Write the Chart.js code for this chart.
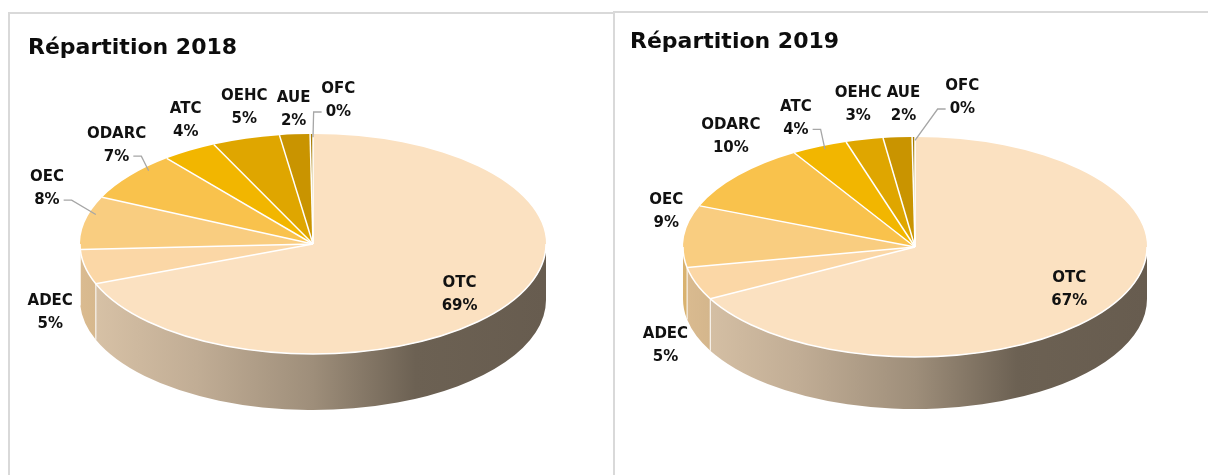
<!DOCTYPE html>
<html>
<head>
<meta charset="utf-8">
<title>Répartition 2018 / 2019</title>
<script src="https://cdn.jsdelivr.net/npm/chart.js"></script>
<style>
    body { margin: 0; background: #fff; width: 1208px; height: 475px; overflow: hidden; position: relative; }
    .panneau { position: absolute; border: 2px solid #d9d9d9; background: #fff; }
    .panneau canvas { display: block; }
    #p2018 { left: 8px; top: 12px; width: 603px; height: 480px; }
    #p2019 { left: 613px; top: 11px; width: 620px; height: 480px; }
</style>
</head>
<body>
    <div class="panneau" id="p2018"><canvas id="c2018" width="603" height="461"></canvas></div>
    <div class="panneau" id="p2019"><canvas id="c2019" width="593" height="462"></canvas></div>
    <script>
        // données (%)
        const categories = ['OTC', 'ADEC', 'OEC', 'ODARC', 'ATC', 'OEHC', 'AUE', 'OFC'];
        const valeurs2018 = [69.1, 5.1, 7.8, 7.2, 3.8, 4.7, 2.1, 0.2];
        const valeurs2019 = [67.2, 4.8, 9.1, 10.2, 3.9, 2.6, 2.0, 0.2];
        const couleurs = ['#FBE1C1', '#FBD7A6', '#F9CD80', '#F9C24C', '#F2B600', '#DFA600', '#C99400', '#A87C00'];

        // ombrage du flanc (gauche clair -> droite sombre)
        const ombrage = [[0, 0.87], [0.25, 0.77], [0.5, 0.63], [0.72, 0.43], [1, 0.41]];

        function assombrir(hex, f) {
            const n = parseInt(hex.slice(1), 16);
            const r = Math.round(((n >> 16) & 255) * f);
            const g = Math.round(((n >> 8) & 255) * f);
            const b = Math.round((n & 255) * f);
            return 'rgb(' + r + ',' + g + ',' + b + ')';
        }

        // camembert "3D" : ellipse + flanc, étiquettes à l'extérieur
        function camembert3d(o, valeurs) {
            const total = valeurs.reduce((a, b) => a + b, 0);
            return {
                id: 'camembert3d',
                beforeDatasetsDraw(chart) {
                    const ctx = chart.ctx;
                    const arcs = chart.getDatasetMeta(0).data;
                    arcs.forEach((arc, i) => {
                        const s = Math.max(arc.startAngle, 0);
                        const e = Math.min(arc.endAngle, Math.PI);
                        if (e <= s) return;
                        ctx.beginPath();
                        ctx.ellipse(o.cx, o.cy, o.rx, o.ry, 0, s, e);
                        ctx.ellipse(o.cx, o.cy + o.depth, o.rx, o.ry, 0, e, s, true);
                        ctx.closePath();
                        const grad = ctx.createLinearGradient(o.cx - o.rx, 0, o.cx + o.rx, 0);
                        ombrage.forEach(([t, f]) => grad.addColorStop(t, assombrir(couleurs[i], f)));
                        ctx.fillStyle = grad;
                        ctx.fill();
                    });
                    // séparations sur le flanc
                    ctx.strokeStyle = 'rgba(255,255,255,0.8)';
                    ctx.lineWidth = 1.2;
                    arcs.forEach(arc => {
                        const a = arc.startAngle;
                        if (a > 0 && a < Math.PI) {
                            const x = o.cx + o.rx * Math.cos(a), y = o.cy + o.ry * Math.sin(a);
                            ctx.beginPath();
                            ctx.moveTo(x, y);
                            ctx.lineTo(x, y + o.depth);
                            ctx.stroke();
                        }
                    });
                    const a0 = arcs[0];
                    ctx.save();
                    ctx.translate(o.cx, o.cy);
                    ctx.scale(o.rx / a0.outerRadius, o.ry / a0.outerRadius);
                    ctx.translate(-a0.x, -a0.y);
                },
                afterDatasetsDraw(chart) {
                    const ctx = chart.ctx;
                    ctx.restore();
                    const arcs = chart.getDatasetMeta(0).data;

                    // traits blancs entre les parts
                    ctx.strokeStyle = '#fff';
                    ctx.lineWidth = 1.5;
                    arcs.forEach(arc => {
                        const a = arc.startAngle;
                        ctx.beginPath();
                        ctx.moveTo(o.cx, o.cy);
                        ctx.lineTo(o.cx + o.rx * Math.cos(a), o.cy + o.ry * Math.sin(a));
                        ctx.stroke();
                    });
                    ctx.beginPath();
                    ctx.ellipse(o.cx, o.cy, o.rx, o.ry, 0, 0, Math.PI);
                    ctx.stroke();

                    // étiquettes
                    ctx.font = 'bold 15px "DejaVu Sans"';
                    ctx.textAlign = 'center';
                    ctx.textBaseline = 'middle';
                    arcs.forEach((arc, i) => {
                        const mid = (arc.startAngle + arc.endAngle) / 2;
                        const c = Math.cos(mid), s = Math.sin(mid);
                        const pct = Math.round(valeurs[i] / total * 100) + '%';
                        const w1 = ctx.measureText(categories[i]).width;
                        const w2 = ctx.measureText(pct).width;
                        const w = Math.max(w1, w2);
                        let x, y;
                        if (i === 0) {
                            x = o.cx + 0.7 * o.rx * c;
                            y = o.cy + 0.7 * o.ry * s;
                        } else {
                            const bx = o.cx + o.rx * c;
                            const by = o.cy + o.ry * s + (s > 0 ? o.depth * s : 0);
                            x = bx + c * (10 + w / 2);
                            y = by + s * 29;
                        }
                        x += o.decal[i][0];
                        y += o.decal[i][1];

                        if (o.repere[i]) {
                            // trait de rappel vers le point le plus proche du bord de la part
                            const sens = o.cx + o.rx * c > x ? 1 : -1;
                            const sx = x + sens * (w2 / 2 + 4), sy = y + 11;
                            const ex = sx + sens * 8;
                            let best = null, dmin = Infinity;
                            for (let k = 0; k <= 40; k++) {
                                const a = arc.startAngle + (arc.endAngle - arc.startAngle) * k / 40;
                                const qx = o.cx + 0.97 * o.rx * Math.cos(a), qy = o.cy + 0.97 * o.ry * Math.sin(a);
                                const d = Math.hypot(qx - ex, qy - sy);
                                if (d < dmin) { dmin = d; best = [qx, qy]; }
                            }
                            ctx.strokeStyle = '#a6a6a6';
                            ctx.lineWidth = 1.3;
                            ctx.beginPath();
                            ctx.moveTo(sx, sy);
                            ctx.lineTo(ex, sy);
                            ctx.lineTo(best[0], best[1]);
                            ctx.stroke();
                        }

                        ctx.fillStyle = '#111';
                        ctx.fillText(categories[i], x, y - 11.5);
                        ctx.fillText(pct, x, y + 11.5);
                    });
                }
            };
        }

        function creerGraphique(id, titre, valeurs, o) {
            return new Chart(document.getElementById(id), {
                type: 'pie',
                data: {
                    labels: categories,
                    datasets: [{
                        data: valeurs,
                        backgroundColor: couleurs,
                        borderWidth: 0,
                        clip: false
                    }]
                },
                options: {
                    responsive: false,
                    animation: false,
                    events: [],
                    layout: { padding: { left: o.titreX } },
                    plugins: {
                        legend: { display: false },
                        tooltip: { enabled: false },
                        title: {
                            display: true,
                            text: titre,
                            align: 'start',
                            color: '#0d0d0d',
                            font: { family: 'DejaVu Sans', size: 22, weight: 'bold', lineHeight: 1.2 },
                            padding: { top: o.titreY, bottom: 10 }
                        }
                    }
                },
                plugins: [camembert3d(o, valeurs)]
            });
        }

        creerGraphique('c2018', 'Répartition 2018', valeurs2018, {
            cx: 303, cy: 230, rx: 233, ry: 110, depth: 56, titreX: 18, titreY: 21,
            decal: [[12, 7], [-3, 28], [-11, -28], [18, -13], [10, -6], [8, -3], [1, 4], [27, -4]],
            repere: [0, 0, 1, 1, 0, 0, 0, 1]
        });
        creerGraphique('c2019', 'Répartition 2019', valeurs2019, {
            cx: 300, cy: 234, rx: 232, ry: 110, depth: 52, titreX: 15, titreY: 16,
            decal: [[15, 3], [0, 35], [9, -22], [23, -20], [-13, -2], [1, -7], [8, -4], [49, -10]],
            repere: [0, 0, 0, 0, 1, 0, 0, 1]
        });
    </script>
</body>
</html>
